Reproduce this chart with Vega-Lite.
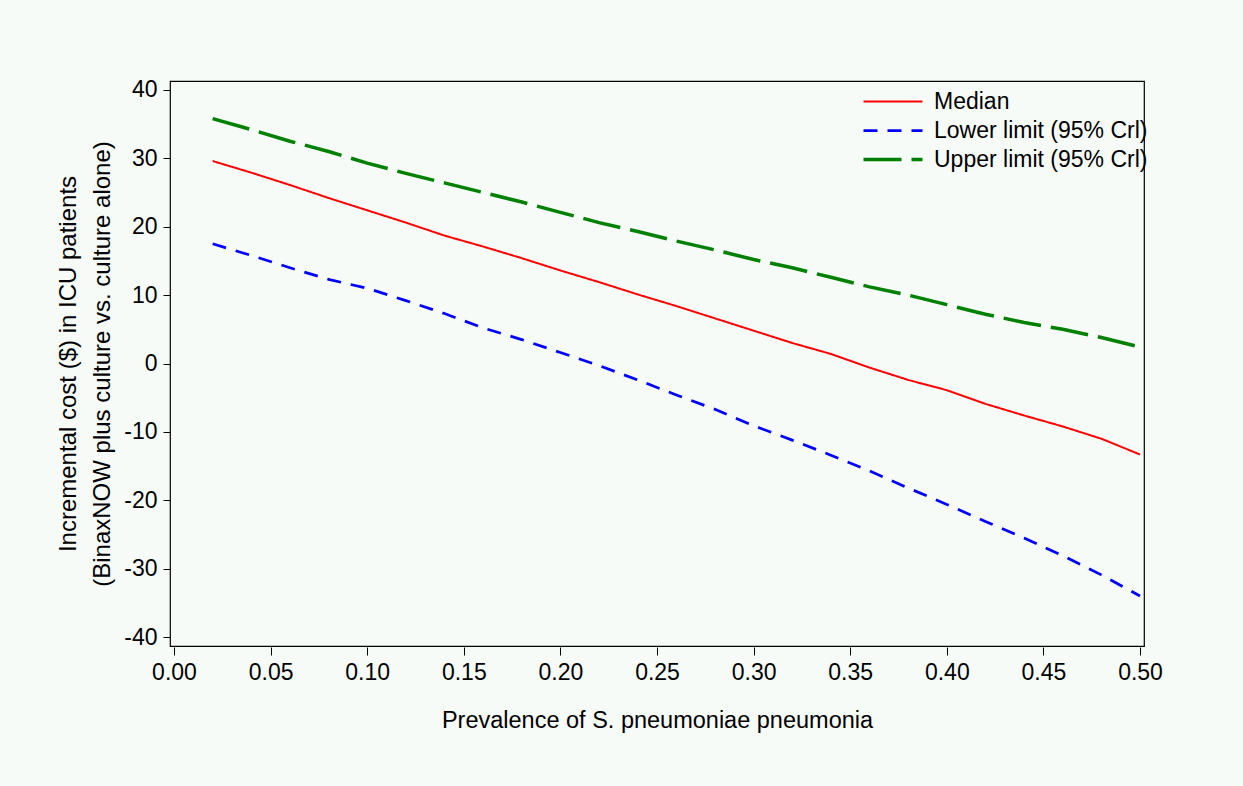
{
  "$schema": "https://vega.github.io/schema/vega-lite/v6.json",
  "width": 974,
  "height": 565,
  "autosize": "none",
  "padding": {"left": 170, "top": 81, "right": 99, "bottom": 140},
  "background": "#f6fbf8",
  "config": {
    "font": "Liberation Sans",
    "view": {"stroke": "#000000", "strokeWidth": 1.2, "fill": "#f6fbf8"},
    "axis": {"grid": false, "domain": false, "labelColor": "#000000", "titleColor": "#000000", "tickColor": "#000000", "labelFont": "Liberation Sans", "titleFont": "Liberation Sans", "titleFontWeight": "normal"}
  },
  "datasets": {
    "curves": [
      {"series": "Median", "p": 0.02, "cost": 29.6},
      {"series": "Median", "p": 0.04, "cost": 27.9},
      {"series": "Median", "p": 0.06, "cost": 26.1},
      {"series": "Median", "p": 0.08, "cost": 24.2},
      {"series": "Median", "p": 0.10, "cost": 22.4},
      {"series": "Median", "p": 0.12, "cost": 20.6},
      {"series": "Median", "p": 0.14, "cost": 18.7},
      {"series": "Median", "p": 0.16, "cost": 17.1},
      {"series": "Median", "p": 0.18, "cost": 15.4},
      {"series": "Median", "p": 0.20, "cost": 13.6},
      {"series": "Median", "p": 0.22, "cost": 11.9},
      {"series": "Median", "p": 0.24, "cost": 10.1},
      {"series": "Median", "p": 0.26, "cost": 8.4},
      {"series": "Median", "p": 0.28, "cost": 6.6},
      {"series": "Median", "p": 0.30, "cost": 4.8},
      {"series": "Median", "p": 0.32, "cost": 3.0},
      {"series": "Median", "p": 0.34, "cost": 1.4},
      {"series": "Median", "p": 0.36, "cost": -0.6},
      {"series": "Median", "p": 0.38, "cost": -2.4},
      {"series": "Median", "p": 0.40, "cost": -3.9},
      {"series": "Median", "p": 0.42, "cost": -5.9},
      {"series": "Median", "p": 0.44, "cost": -7.6},
      {"series": "Median", "p": 0.46, "cost": -9.2},
      {"series": "Median", "p": 0.48, "cost": -11.0},
      {"series": "Median", "p": 0.50, "cost": -13.3},
      {"series": "Lower limit (95% Crl)", "p": 0.02, "cost": 17.5},
      {"series": "Lower limit (95% Crl)", "p": 0.04, "cost": 15.8},
      {"series": "Lower limit (95% Crl)", "p": 0.06, "cost": 14.0},
      {"series": "Lower limit (95% Crl)", "p": 0.08, "cost": 12.3},
      {"series": "Lower limit (95% Crl)", "p": 0.10, "cost": 11.0},
      {"series": "Lower limit (95% Crl)", "p": 0.12, "cost": 9.2},
      {"series": "Lower limit (95% Crl)", "p": 0.14, "cost": 7.3},
      {"series": "Lower limit (95% Crl)", "p": 0.16, "cost": 5.2},
      {"series": "Lower limit (95% Crl)", "p": 0.18, "cost": 3.5},
      {"series": "Lower limit (95% Crl)", "p": 0.20, "cost": 1.6},
      {"series": "Lower limit (95% Crl)", "p": 0.22, "cost": -0.3},
      {"series": "Lower limit (95% Crl)", "p": 0.24, "cost": -2.4},
      {"series": "Lower limit (95% Crl)", "p": 0.26, "cost": -4.6},
      {"series": "Lower limit (95% Crl)", "p": 0.28, "cost": -6.7},
      {"series": "Lower limit (95% Crl)", "p": 0.30, "cost": -9.1},
      {"series": "Lower limit (95% Crl)", "p": 0.32, "cost": -11.2},
      {"series": "Lower limit (95% Crl)", "p": 0.34, "cost": -13.4},
      {"series": "Lower limit (95% Crl)", "p": 0.36, "cost": -15.7},
      {"series": "Lower limit (95% Crl)", "p": 0.38, "cost": -18.2},
      {"series": "Lower limit (95% Crl)", "p": 0.40, "cost": -20.6},
      {"series": "Lower limit (95% Crl)", "p": 0.42, "cost": -23.1},
      {"series": "Lower limit (95% Crl)", "p": 0.44, "cost": -25.5},
      {"series": "Lower limit (95% Crl)", "p": 0.46, "cost": -28.1},
      {"series": "Lower limit (95% Crl)", "p": 0.48, "cost": -30.9},
      {"series": "Lower limit (95% Crl)", "p": 0.50, "cost": -34.0},
      {"series": "Upper limit (95% Crl)", "p": 0.02, "cost": 35.8},
      {"series": "Upper limit (95% Crl)", "p": 0.04, "cost": 34.2},
      {"series": "Upper limit (95% Crl)", "p": 0.06, "cost": 32.5},
      {"series": "Upper limit (95% Crl)", "p": 0.08, "cost": 31.0},
      {"series": "Upper limit (95% Crl)", "p": 0.10, "cost": 29.3},
      {"series": "Upper limit (95% Crl)", "p": 0.12, "cost": 27.8},
      {"series": "Upper limit (95% Crl)", "p": 0.14, "cost": 26.4},
      {"series": "Upper limit (95% Crl)", "p": 0.16, "cost": 25.0},
      {"series": "Upper limit (95% Crl)", "p": 0.18, "cost": 23.6},
      {"series": "Upper limit (95% Crl)", "p": 0.20, "cost": 22.1},
      {"series": "Upper limit (95% Crl)", "p": 0.22, "cost": 20.6},
      {"series": "Upper limit (95% Crl)", "p": 0.24, "cost": 19.3},
      {"series": "Upper limit (95% Crl)", "p": 0.26, "cost": 17.9},
      {"series": "Upper limit (95% Crl)", "p": 0.28, "cost": 16.6},
      {"series": "Upper limit (95% Crl)", "p": 0.30, "cost": 15.2},
      {"series": "Upper limit (95% Crl)", "p": 0.32, "cost": 14.0},
      {"series": "Upper limit (95% Crl)", "p": 0.34, "cost": 12.6},
      {"series": "Upper limit (95% Crl)", "p": 0.36, "cost": 11.2},
      {"series": "Upper limit (95% Crl)", "p": 0.38, "cost": 10.0},
      {"series": "Upper limit (95% Crl)", "p": 0.40, "cost": 8.6},
      {"series": "Upper limit (95% Crl)", "p": 0.42, "cost": 7.2},
      {"series": "Upper limit (95% Crl)", "p": 0.44, "cost": 6.0},
      {"series": "Upper limit (95% Crl)", "p": 0.46, "cost": 5.0},
      {"series": "Upper limit (95% Crl)", "p": 0.48, "cost": 3.8},
      {"series": "Upper limit (95% Crl)", "p": 0.50, "cost": 2.4}
    ]
  },
  "encoding": {
    "x": {
      "field": "p", "type": "quantitative",
      "scale": {"domain": [-0.00207, 0.50207], "nice": false, "zero": false},
      "axis": {
        "values": [0, 0.05, 0.1, 0.15, 0.2, 0.25, 0.3, 0.35, 0.4, 0.45, 0.5],
        "format": ".2f",
        "title": "Prevalence of S. pneumoniae pneumonia",
        "offset": 1, "tickSize": 8, "labelPadding": 6,
        "labelFontSize": 23, "titleFontSize": 23.5, "titlePadding": 24
      }
    },
    "y": {
      "field": "cost", "type": "quantitative",
      "scale": {"domain": [-41.3, 41.3], "nice": false, "zero": false},
      "axis": {
        "values": [-40, -30, -20, -10, 0, 10, 20, 30, 40],
        "labelExpr": "datum.value < 0 ? '-' + abs(datum.value) : '' + datum.value",
        "title": ["Incremental cost ($) in ICU patients", "(BinaxNOW plus culture vs. culture alone)"],
        "tickSize": 7, "labelPadding": 6,
        "labelFontSize": 23, "titleFontSize": 24, "titleLineHeight": 34, "titlePadding": 9
      }
    }
  },
  "layer": [
    {
      "mark": {"type": "rule", "color": "#000000", "strokeWidth": 1.2, "strokeDash": [16, 4, 4, 4]},
      "encoding": {"y": {"datum": 0}, "x": null}
    },
    {
      "data": {"name": "curves"},
      "mark": {"type": "line", "interpolate": "linear"},
      "encoding": {
        "detail": {"field": "series"},
        "color": {
          "field": "series", "type": "nominal",
          "scale": {"domain": ["Median", "Lower limit (95% Crl)", "Upper limit (95% Crl)"], "range": ["#ff0000", "#0000ff", "#008000"]},
          "legend": {
            "title": null, "orient": "none", "legendX": 693, "legendY": 9,
            "padding": 0,
            "symbolType": "M0,0H11.8", "symbolSize": 100, "symbolOffset": -11,
            "symbolFillColor": "transparent",
            "labelOffset": 59, "labelFontSize": 23, "labelFont": "Liberation Sans", "labelColor": "#000000",
            "rowPadding": 5, "labelLimit": 400
          }
        },
        "strokeDash": {
          "field": "series", "type": "nominal",
          "scale": {"domain": ["Median", "Lower limit (95% Crl)", "Upper limit (95% Crl)"], "range": [[1, 0], [14, 10], [38, 10]]},
          "legend": null
        },
        "strokeWidth": {
          "field": "series", "type": "nominal",
          "scale": {"domain": ["Median", "Lower limit (95% Crl)", "Upper limit (95% Crl)"], "range": [2, 3.5, 3.5]},
          "legend": null
        }
      }
    }
  ]
}
